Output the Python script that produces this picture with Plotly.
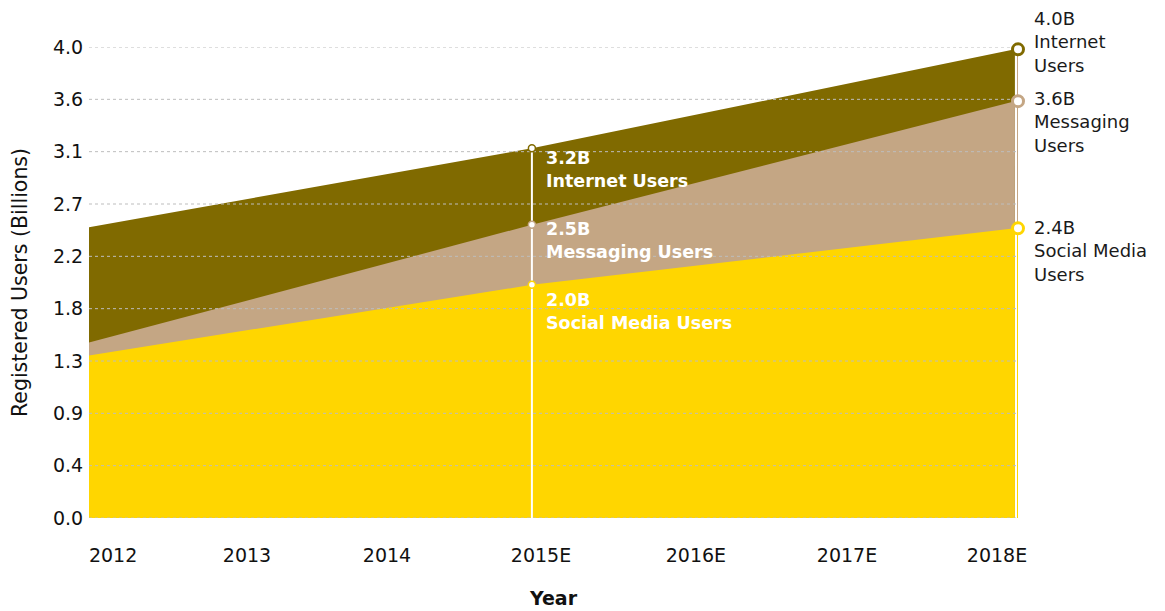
import plotly.graph_objects as go

# ---------------- data ----------------
point_labels = ["2012", "2015E", "2018E"]
point_x = [2012.0, 2014.87, 2018.0]          # position of each data point on the year axis
internet = [2.47, 3.14, 3.98]
messaging = [1.49, 2.49, 3.54]
social = [1.38, 1.98, 2.46]

series_names = ["Internet Users", "Messaging Users", "Social Media Users"]
mid_labels = ["3.2B<br>Internet Users", "2.5B<br>Messaging Users", "2.0B<br>Social Media Users"]
end_labels = ["4.0B<br>Internet<br>Users", "3.6B<br>Messaging<br>Users", "2.4B<br>Social Media<br>Users"]

tick_text = ["2012", "2013", "2014", "2015E", "2016E", "2017E", "2018E"]
y_ticks = [i * 4.0 / 9 for i in range(10)]

# ---------------- style ----------------
FONT = "DejaVu Sans"
colors = ["#806a00", "#c4a684", "#ffd600"]
grid_color = "#bdbdbd"
tick_pos = [2012.156, 2013.024, 2013.931, 2014.929, 2015.933, 2016.912, 2017.884]
x_range = [2012.0, 2018.02]
end_offset = 0.02
mid_yshift = [2, 8, -3]
end_yshift = [43, 15, 13]

series = [internet, messaging, social]

fig = go.Figure()

# areas (drawn back to front)
for name, vals, col in zip(series_names, series, colors):
    fig.add_trace(go.Scatter(
        x=point_x, y=vals, mode="lines", name=name,
        line=dict(width=0, color=col), fill="tozeroy", fillcolor=col,
        hoverinfo="skip", showlegend=False))

# dashed gridlines drawn above the areas
gx, gy = [], []
for v in y_ticks:
    gx += [x_range[0], x_range[1], None]
    gy += [v, v, None]
fig.add_trace(go.Scatter(x=gx, y=gy, mode="lines",
                         line=dict(color=grid_color, width=1, dash="3px,3px"),
                         hoverinfo="skip", showlegend=False, cliponaxis=False))

# 2015E guide line (white)
x_mid = point_x[1]
fig.add_trace(go.Scatter(x=[x_mid, x_mid], y=[0, internet[1]], mode="lines",
                         line=dict(color="white", width=2), hoverinfo="skip", showlegend=False))

# 2018E guide line segments
x_end = point_x[2] + end_offset
fig.add_trace(go.Scatter(x=[x_end, x_end], y=[social[2], internet[2]], mode="lines",
                         line=dict(color=colors[1], width=2), hoverinfo="skip",
                         showlegend=False, cliponaxis=False))
fig.add_trace(go.Scatter(x=[x_end, x_end], y=[0, social[2]], mode="lines",
                         line=dict(color=colors[2], width=2), hoverinfo="skip",
                         showlegend=False, cliponaxis=False))

# markers
for vals, col in zip(series, colors):
    fig.add_trace(go.Scatter(x=[x_mid], y=[vals[1]], mode="markers",
                             marker=dict(size=7, color="white", line=dict(color=col, width=1.5)),
                             hoverinfo="skip", showlegend=False, cliponaxis=False))
    fig.add_trace(go.Scatter(x=[x_end], y=[vals[2]], mode="markers",
                             marker=dict(size=11, color="white", line=dict(color=col, width=3)),
                             hoverinfo="skip", showlegend=False, cliponaxis=False))

# annotations
for i, vals in enumerate(series):
    fig.add_annotation(x=x_mid, y=vals[1], text="<b>" + mid_labels[i].replace("<br>", "</b><br><b>") + "</b>",
                       showarrow=False, xanchor="left", yanchor="top", align="left",
                       xshift=12, yshift=mid_yshift[i],
                       font=dict(family=FONT, size=17.5, color="white"))
    fig.add_annotation(x=x_end, y=vals[2], text=end_labels[i],
                       showarrow=False, xanchor="left", yanchor="top", align="left",
                       xshift=14, yshift=end_yshift[i],
                       font=dict(family=FONT, size=18, color="#1a1a1a"))

fig.update_layout(
    width=1157, height=603,
    margin=dict(l=81, r=147, t=39, b=93, autoexpand=False),
    paper_bgcolor="white", plot_bgcolor="white",
    font=dict(family=FONT, size=19, color="#111111"),
    showlegend=False,
    xaxis=dict(
        range=x_range, tickmode="array", tickvals=tick_pos, ticktext=tick_text,
        showgrid=False, zeroline=False, showline=False,
        ticks="outside", ticklen=20, tickcolor="rgba(0,0,0,0)",
        tickfont=dict(family=FONT, size=19, color="#111111"),
        title=dict(text="<b>Year</b>", font=dict(family=FONT, size=19, color="#111111"), standoff=26),
        automargin=False,
    ),
    yaxis=dict(
        range=[0, 4.0], tickmode="array", tickvals=y_ticks,
        ticktext=[f"{v:.1f}" for v in y_ticks],
        showgrid=False, zeroline=False, showline=False,
        ticks="outside", ticklen=1, tickcolor="rgba(0,0,0,0)",
        tickfont=dict(family=FONT, size=19, color="#111111"),
        title=dict(text="Registered Users (Billions)", font=dict(family=FONT, size=20.5, color="#111111"), standoff=20),
        automargin=False,
    ),
)

fig.write_html("out.html")
